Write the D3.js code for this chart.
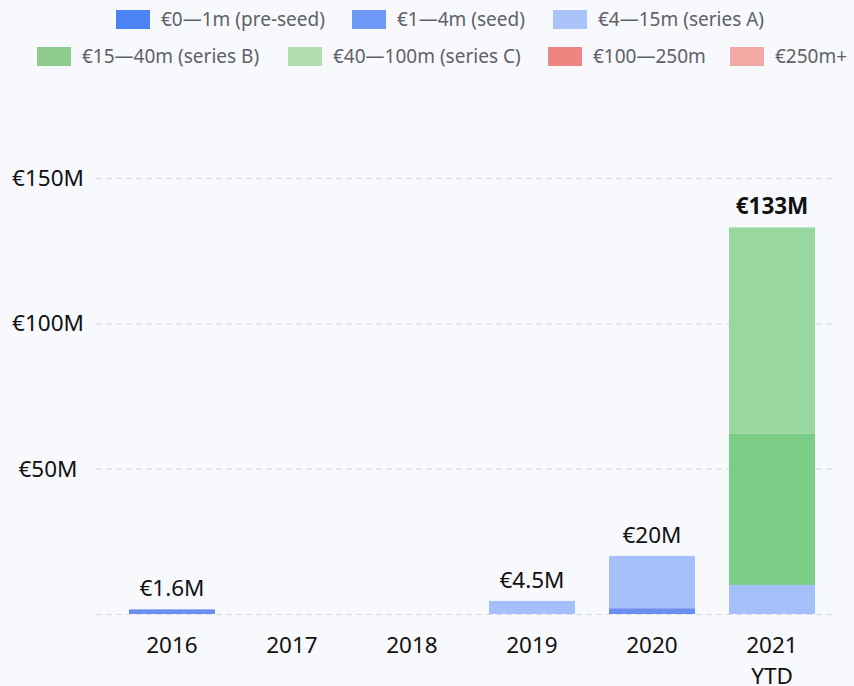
<!DOCTYPE html>
<meta charset="utf-8">
<script src="https://cdn.jsdelivr.net/npm/d3@7"></script>
<style>
body { margin: 0; background: #f7f9fd; }
text { font-family: "Noto Sans", sans-serif; }
.legend text { fill: #5f6166; font-size: 19px; }
.tick-label { fill: #111; font-size: 22.5px; }
.value-label { fill: #111; font-size: 22.5px; }
</style>
<body>
<script>

// data
var years = ["2016", "2017", "2018", "2019", "2020", "2021 YTD"];
var stages = ["€0—1m (pre-seed)", "€1—4m (seed)", "€4—15m (series A)",
              "€15—40m (series B)", "€40—100m (series C)", "€100—250m", "€250m+"];
var colors = ["#4a80f0", "#6b8ff0", "#a4bffa", "#7ccd87", "#98d79d", "#f08783", "#f4a9a2"];
var legendColors = ["#4b82f4", "#6e98f5", "#aac4f9", "#8fcc8d", "#b2deb0", "#ee8580", "#f3a9a3"];

// values in €M per stage, one entry per year
var preSeed  = [0,   0, 0, 0,   0,  0];
var seed     = [1.6, 0, 0, 0,   2,  0];
var seriesA  = [0,   0, 0, 4.5, 18, 10];
var seriesB  = [0,   0, 0, 0,   0,  52];
var seriesC  = [0,   0, 0, 0,   0,  71];
var round100 = [0,   0, 0, 0,   0,  0];
var round250 = [0,   0, 0, 0,   0,  0];
var totals   = ["€1.6M", "", "", "€4.5M", "€20M", "€133M"];
var yTicks = [0, 50, 100, 150];
var yTickLabels = ["", "€50M", "€100M", "€150M"];

var width = 854, height = 686;

var series = [preSeed, seed, seriesA, seriesB, seriesC, round100, round250];
var table = years.map(function(y, i) {
  var row = {year: y};
  stages.forEach(function(s, k) { row[s] = series[k][i]; });
  return row;
});

var stack = d3.stack().keys(stages)(table);

var x = d3.scaleBand()
    .domain(years)
    .range([112, 832])
    .paddingInner(0.283)
    .paddingOuter(0.1415);

var y = d3.scaleLinear()
    .domain([0, 150])
    .range([614, 178]);

var svg = d3.select("body").append("svg")
    .attr("width", width)
    .attr("height", height);

// gridlines
svg.append("g")
    .selectAll("line")
    .data(yTicks)
    .enter().append("line")
    .attr("x1", 96)
    .attr("x2", 835)
    .attr("y1", function(d) { return y(d) + 0.5; })
    .attr("y2", function(d) { return y(d) + 0.5; })
    .style("stroke", "#d6dae2")
    .style("stroke-width", 1)
    .style("stroke-dasharray", "6,4");

// y labels
svg.append("g")
    .selectAll("text")
    .data(yTicks)
    .enter().append("text")
    .attr("class", "tick-label")
    .attr("x", 48)
    .attr("y", function(d) { return y(d); })
    .attr("dy", "0.35em")
    .attr("text-anchor", "middle")
    .text(function(d, i) { return yTickLabels[i]; });

// bars
svg.append("g")
    .selectAll("g")
    .data(stack)
    .enter().append("g")
    .style("fill", function(d, i) { return colors[i]; })
    .selectAll("rect")
    .data(function(d) { return d; })
    .enter().append("rect")
    .attr("x", function(d) { return x(d.data.year); })
    .attr("width", x.bandwidth())
    .attr("y", function(d) { return y(d[1]); })
    .attr("height", function(d) { return y(d[0]) - y(d[1]); });

// total labels
var sums = table.map(function(r) { return d3.sum(stages, function(s) { return r[s]; }); });
svg.append("g")
    .selectAll("text")
    .data(years)
    .enter().append("text")
    .attr("class", "value-label")
    .attr("x", function(d) { return x(d) + x.bandwidth() / 2; })
    .attr("y", function(d, i) { return y(sums[i]) - 13; })
    .attr("text-anchor", "middle")
    .style("font-weight", function(d, i) { return i === years.length - 1 ? "bold" : "normal"; })
    .text(function(d, i) { return totals[i]; });

// x labels
var xl = svg.append("g")
    .selectAll("text")
    .data(years)
    .enter().append("text")
    .attr("class", "tick-label")
    .attr("text-anchor", "middle")
    .attr("x", function(d) { return x(d) + x.bandwidth() / 2; })
    .attr("y", 653);
xl.each(function(d) {
  var parts = d.split(" ");
  var t = d3.select(this);
  parts.forEach(function(p, i) {
    t.append("tspan")
      .attr("x", t.attr("x"))
      .attr("dy", i === 0 ? 0 : 31)
      .text(p);
  });
});

// legend
var legendPos = [
  [116, 19.5], [352, 19.5], [553, 19.5],
  [37, 56.5], [288, 56.5], [548, 56.5], [730, 56.5]
];
var legend = svg.append("g").attr("class", "legend")
    .selectAll("g")
    .data(stages)
    .enter().append("g")
    .attr("transform", function(d, i) { return "translate(" + legendPos[i][0] + "," + legendPos[i][1] + ")"; });

legend.append("rect")
    .attr("x", 0)
    .attr("y", -9.5)
    .attr("width", 34)
    .attr("height", 19)
    .style("fill", function(d, i) { return legendColors[i]; });

legend.append("text")
    .attr("x", 45)
    .attr("dy", "0.35em")
    .text(function(d) { return d; });

</script>
</body>
